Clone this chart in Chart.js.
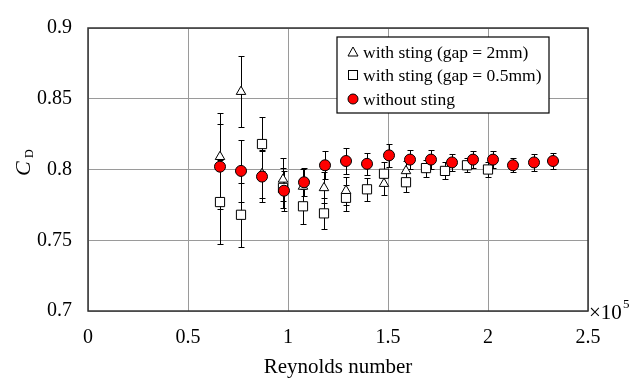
<!DOCTYPE html>
<html>
<head>
<meta charset="utf-8">
<script src="https://cdn.jsdelivr.net/npm/chart.js@4.4.1/dist/chart.umd.min.js"></script>
<style>
    html, body { margin: 0; padding: 0; background: #ffffff; }
    #wrap { width: 643px; height: 381px; position: relative; }
</style>
</head>
<body>
<div id="wrap"><canvas id="cdChart"></canvas></div>
<script>
// Reynolds number (x 10^5) and drag coefficient
const triX   = [0.66, 0.765, 0.87, 0.975, 1.075, 1.18, 1.29, 1.48, 1.59];
const triY   = [0.809, 0.855, 0.797, 0.793, 0.788, 0.787, 0.785, 0.790, 0.799];
const triErr = [0.031, 0.025, 0.017, 0.015, 0.012, 0.011, 0.010, 0.008, 0.007];

const sqX   = [0.66, 0.765, 0.87, 0.975, 1.075, 1.18, 1.29, 1.395, 1.48, 1.59, 1.69, 1.785, 1.895, 2.0];
const sqY   = [0.777, 0.768, 0.818, 0.787, 0.774, 0.769, 0.780, 0.786, 0.797, 0.791, 0.801, 0.799, 0.803, 0.800];
const sqErr = [0.030, 0.0225, 0.019, 0.014, 0.0125, 0.011, 0.009, 0.008, 0.008, 0.007, 0.006, 0.006, 0.005, 0.005];

const cirX   = [0.66, 0.765, 0.87, 0.98, 1.08, 1.185, 1.29, 1.395, 1.505, 1.61, 1.715, 1.82, 1.925, 2.025, 2.125, 2.23, 2.325];
const cirY   = [0.802, 0.799, 0.795, 0.785, 0.791, 0.803, 0.806, 0.804, 0.810, 0.807, 0.807, 0.805, 0.807, 0.807, 0.803, 0.805, 0.806];
const cirErr = [0.030, 0.022, 0.018, 0.014, 0.010, 0.010, 0.009, 0.008, 0.008, 0.007, 0.007, 0.006, 0.006, 0.006, 0.005, 0.006, 0.006];

const xTicks = [0, 0.5, 1, 1.5, 2, 2.5];
const yTicks = [0.7, 0.75, 0.8, 0.85, 0.9];
const seriesLabels = ['with sting (gap = 2mm)', 'with sting (gap = 0.5mm)', 'without sting'];

const FONT = '"Liberation Serif", "Times New Roman", serif';

function toPoints(xs, ys) {
    return xs.map((x, i) => ({ x: x, y: ys[i] }));
}

const errSets = [triErr, sqErr, cirErr];

// Error bars drawn under the markers
const errorBars = {
    id: 'errorBars',
    beforeDatasetsDraw(chart) {
        const { ctx, scales: { x, y } } = chart;
        ctx.save();
        ctx.strokeStyle = '#000000';
        ctx.lineWidth = 1;
        chart.data.datasets.forEach((ds, d) => {
            ds.data.forEach((p, i) => {
                const e = errSets[d][i];
                const px = Math.round(x.getPixelForValue(p.x)) + 0.5;
                const top = Math.round(y.getPixelForValue(p.y + e)) + 0.5;
                const bot = Math.round(y.getPixelForValue(p.y - e)) + 0.5;
                ctx.beginPath();
                ctx.moveTo(px, top); ctx.lineTo(px, bot);
                ctx.moveTo(px - 3, top); ctx.lineTo(px + 3, top);
                ctx.moveTo(px - 3, bot); ctx.lineTo(px + 3, bot);
                ctx.stroke();
            });
        });
        ctx.restore();
    }
};

// Frame, axis titles, multiplier and boxed legend
const decorations = {
    id: 'decorations',
    afterDraw(chart) {
        const { ctx, chartArea: a } = chart;
        ctx.save();

        ctx.strokeStyle = '#333333';
        ctx.lineWidth = 1.5;
        ctx.strokeRect(a.left, a.top, a.right - a.left, a.bottom - a.top);

        ctx.fillStyle = '#000000';
        ctx.textBaseline = 'alphabetic';

        // x title
        ctx.font = '21px ' + FONT;
        ctx.textAlign = 'center';
        ctx.fillText('Reynolds number', (a.left + a.right) / 2, 373);

        // x10^5
        ctx.textAlign = 'left';
        ctx.font = '21px ' + FONT;
        ctx.fillText('\u00d710', a.right + 1, 319);
        ctx.font = '13px ' + FONT;
        ctx.fillText('5', a.right + 35, 308);

        // y title C_D
        ctx.save();
        ctx.translate(30, 163);
        ctx.rotate(-Math.PI / 2);
        ctx.font = 'italic 22px ' + FONT;
        ctx.textAlign = 'left';
        ctx.fillText('C', -13, 0);
        ctx.font = '12px ' + FONT;
        ctx.fillText('D', 5, 3);
        ctx.restore();

        // legend
        const lx = 337, ly = 37, lw = 212, lh = 76;
        ctx.fillStyle = '#ffffff';
        ctx.fillRect(lx, ly, lw, lh);
        ctx.strokeStyle = '#000000';
        ctx.lineWidth = 1.2;
        ctx.strokeRect(lx, ly, lw, lh);

        const rows = [52, 75, 99];
        ctx.lineWidth = 1;
        // triangle
        ctx.beginPath();
        ctx.moveTo(353, rows[0] - 5);
        ctx.lineTo(358, rows[0] + 4);
        ctx.lineTo(348, rows[0] + 4);
        ctx.closePath();
        ctx.fillStyle = '#ffffff';
        ctx.fill(); ctx.stroke();
        // square
        ctx.fillRect(348.5, rows[1] - 4.5, 9, 9);
        ctx.strokeRect(348.5, rows[1] - 4.5, 9, 9);
        // circle
        ctx.beginPath();
        ctx.arc(353, rows[2], 5, 0, Math.PI * 2);
        ctx.fillStyle = '#ff0000';
        ctx.fill(); ctx.stroke();

        ctx.fillStyle = '#000000';
        ctx.font = '17.5px ' + FONT;
        ctx.textAlign = 'left';
        ctx.textBaseline = 'middle';
        seriesLabels.forEach((t, i) => ctx.fillText(t, 363, rows[i] + 1));

        ctx.restore();
    }
};

new Chart(document.getElementById('cdChart').getContext('2d'), {
    type: 'scatter',
    data: {
        datasets: [{
            label: seriesLabels[0],
            data: toPoints(triX, triY),
            pointStyle: 'triangle',
            pointRadius: 5.5,
            backgroundColor: '#ffffff',
            borderColor: '#000000',
            borderWidth: 1,
            order: 1
        }, {
            label: seriesLabels[1],
            data: toPoints(sqX, sqY),
            pointStyle: 'rect',
            pointRadius: 6.5,
            backgroundColor: '#ffffff',
            borderColor: '#000000',
            borderWidth: 1,
            order: 2
        }, {
            label: seriesLabels[2],
            data: toPoints(cirX, cirY),
            pointStyle: 'circle',
            pointRadius: 5.5,
            backgroundColor: '#ff0000',
            borderColor: '#000000',
            borderWidth: 1,
            order: 0
        }]
    },
    options: {
        responsive: true,
        maintainAspectRatio: false,
        animation: false,
        layout: { padding: { left: 0, top: 15, right: 55, bottom: 0 } },
        plugins: {
            legend: { display: false },
            tooltip: { enabled: false }
        },
        scales: {
            x: {
                type: 'linear',
                min: 0, max: 2.5,
                afterFit: (s) => { s.height = 70; },
                afterBuildTicks: (s) => { s.ticks = xTicks.map(v => ({ value: v })); },
                ticks: {
                    padding: 15,
                    color: '#000000',
                    font: { family: FONT, size: 20 },
                    callback: (v) => String(v)
                },
                grid: { color: '#9a9a9a', lineWidth: 1, drawTicks: false },
                border: { display: false }
            },
            y: {
                type: 'linear',
                min: 0.7, max: 0.9,
                afterFit: (s) => { s.width = 88; },
                afterBuildTicks: (s) => { s.ticks = yTicks.map(v => ({ value: v })); },
                ticks: {
                    padding: 16,
                    color: '#000000',
                    font: { family: FONT, size: 20 },
                    callback: (v) => String(+v.toFixed(2))
                },
                grid: { color: '#9a9a9a', lineWidth: 1, drawTicks: false },
                border: { display: false }
            }
        }
    },
    plugins: [errorBars, decorations]
});
</script>
</body>
</html>
